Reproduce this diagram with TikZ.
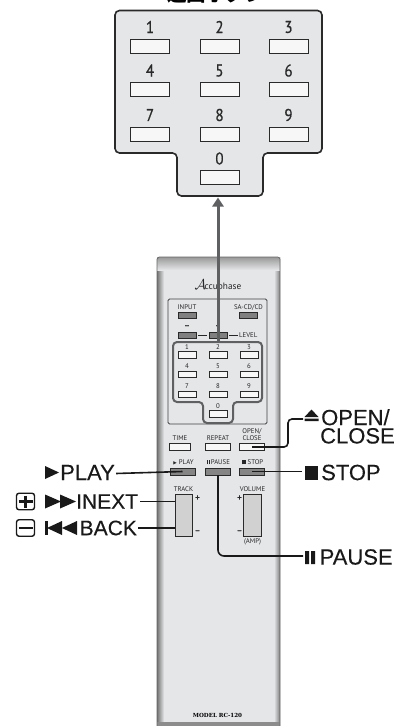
\documentclass[tikz,border=0pt]{standalone}
\usepackage{fontspec}
\setmainfont[FakeBold=0.25]{Liberation Sans}
\newfontfamily\cjk{Noto Sans CJK JP}
\newfontfamily\din{PT Sans}
\newfontfamily\dinm[FakeBold=0.8,FakeStretch=0.88]{PT Sans}
\newfontfamily\sym{DejaVu Sans}
\newfontfamily\modelf{DejaVu Serif}
\usetikzlibrary{arrows.meta}
\definecolor{panelgray}{HTML}{E5E6E8}
\definecolor{hlgray}{HTML}{5F6062}
\definecolor{edge}{HTML}{2A2A2A}
\tikzset{
  btnbase/.style={draw=edge,line width=0.9pt,inner sep=0pt,outer sep=0pt},
  pbtn/.style={btnbase,line width=1pt,fill=white!97!black,minimum width=39pt,minimum height=14pt},
  rbtn/.style={btnbase,fill=white!97!black,minimum width=18pt,minimum height=6.5pt},
  lbtn/.style={btnbase,fill=white!97!black,minimum width=25pt,minimum height=6.5pt},
  gbtn/.style={btnbase,fill=black!50,minimum width=18pt,minimum height=6.5pt},
  dbtn/.style={btnbase,fill=black!48,minimum width=25pt,minimum height=7pt},
  slider/.style={btnbase,top color=black!18,middle color=white,bottom color=black!18,minimum width=17.5pt,minimum height=42.5pt},
  pdigit/.style={inner sep=0pt,text=edge,font=\dinm\fontsize{17}{17}\selectfont},
  small/.style={inner sep=0pt,text=black!85,font=\din\fontsize{6.8}{7.2}\selectfont,align=center},
  signmark/.style={inner sep=0pt,text=black!85,font=\dinm\fontsize{9.5}{9.5}\selectfont},
  big/.style={inner sep=0pt,text=black!90,font=\fontsize{22}{18.3}\selectfont,align=left},
  bigs/.style={big,font=\fontsize{21}{21}\selectfont},
  conn/.style={draw=black!90,line width=1.6pt,rounded corners=4pt},
  hl/.style={draw=hlgray,line width=2pt,rounded corners=4pt},
  jump/.style={draw=hlgray,line width=3pt,-{Triangle[length=9pt,width=11pt]}},
  iconbox/.style={draw=black!90,line width=1.4pt,rounded corners=2.5pt,minimum width=18pt,minimum height=16.5pt,inner sep=0pt},
}
\begin{document}
\begin{tikzpicture}[x=1pt,y=-1pt]
\useasboundingbox (0,0) rectangle (396,726);
\fill[white] (0,0) rectangle (396,726);
% title
\node[inner sep=0pt,font=\cjk\bfseries\fontsize{19.5}{19.5}\selectfont] (title) at (216,-6) {選曲ボタン};
% enlarged panel
\draw[draw=edge,line width=1.6pt,fill=panelgray,rounded corners=4.5pt]
  (115,10.5) -- (322,10.5) -- (322,153) -- (263,153) -- (263,196) -- (177,196) -- (177,153) -- (115,153) -- cycle;
\coordinate (panelbottom) at (218,197.5);
\foreach \d/\x/\y in {1/150/46,2/219.5/46,3/288.5/46,4/150/89.5,5/219.5/89.5,6/288.5/89.5,7/150/134,8/219.5/134,9/288.5/134,0/219.5/177.5}{
  \node[pbtn] (p\d) at (\x,\y) {};
  \node[pdigit] (pd\d) at (\x,\y-19) {\d};
}
% remote body
\fill[panelgray] (157,257) rectangle (280,726);
\shade[left color=black!55,right color=panelgray] (157,257) rectangle (164,726);
\shade[left color=panelgray,right color=black!50] (274,257) rectangle (280,726);
\shade[top color=black!40,bottom color=panelgray] (157,257) rectangle (280,270);
\fill[black!45] (157,722) rectangle (280,726);
\draw[black!60,line width=0.7pt] (157,726) -- (157,259) -- ++(2,-2) -- (278,257) -- ++(2,2) -- (280,726);
% logo
\node[inner sep=0pt,text=black!85] (logo) at (218,286) {\fontsize{15}{15}\selectfont$\mathcal{A}$\hspace{-1.5pt}{\din\fontsize{9.3}{9}\selectfont ccuphase}};
% upper inner box
\draw[draw=black!75,line width=0.8pt,rounded corners=1.5pt] (168,299) rectangle (267,424);
\node[small] (linput) at (187,307.5) {INPUT};
\node[small] (lsacd) at (248.5,307.5) {SA-CD/CD};
\node[gbtn] (binput) at (187,315.5) {};
\node[gbtn] (bsacd) at (248.5,315.5) {};
\node[signmark] (lminus) at (187,327) {–};
\node[signmark] (lplus) at (218,327) {–};
\node[gbtn] (blevela) at (187,335.5) {};
\node[gbtn] (blevelb) at (218,335.5) {};
\node[small,anchor=west] (llevel) at (239,335.5) {LEVEL};
\draw[black!85,line width=0.9pt,shorten <=2.3pt,shorten >=2pt] (blevela) -- (blevelb);
\draw[black!85,line width=0.9pt,shorten <=2.3pt,shorten >=1pt] (blevelb) -- (llevel);
% numeric keys on the remote
\foreach \d/\x/\y in {1/187/355,2/218/355,3/249/355,4/187/374.5,5/218/374.5,6/249/374.5,7/187/394.5,8/218/394.5,9/249/394.5,0/218/414}{
  \node[rbtn] (r\d) at (\x,\y) {};
  \node[small] (rd\d) at (\x,\y-8) {\d};
}
\draw[hl] (173,342) -- (262,342) -- (262,402) -- (233,402) -- (233,423) -- (203,423) -- (203,402) -- (173,402) -- cycle;
\coordinate (hltop) at (218,342);
% lower keys
\node[lbtn,minimum width=20.5pt] (btime) at (180,447) {};
\node[lbtn] (brepeat) at (218,447) {};
\node[lbtn] (bopen) at (252,447) {};
\node[small] (ltime) at (180,438) {TIME};
\node[small] (lrepeat) at (218,438) {REPEAT};
\node[small] (lopen) at (252,434.5) {OPEN/\\CLOSE};
\node[dbtn] (bplay) at (182.5,471.5) {};
\node[dbtn] (bpause) at (218,471.5) {};
\node[dbtn] (bstop) at (252,471.5) {};
\node[small] (lplaysm) at (183.5,462) {{\sym\fontsize{4.5}{5}\selectfont ▶}\hspace{2pt}PLAY};
\node[small] (lpausesm) at (218.5,462) {\rule{1pt}{4.4pt}\hspace{0.8pt}\rule{1pt}{4.4pt}\hspace{1pt}PAUSE};
\node[small] (lstopsm) at (252.5,462) {\rule{4.4pt}{4.4pt}\hspace{1.5pt}STOP};
% sliders
\node[slider] (track) at (183.75,515.5) {};
\node[slider] (volume) at (252.6,515.5) {};
\node[small] (ltrack) at (183.5,489.5) {TRACK};
\node[small] (lvolume) at (252.5,489.5) {VOLUME};
\node[signmark] (tplus) at (197.5,498) {+};
\node[signmark] (tminus) at (197.5,532) {–};
\node[signmark] (vplus) at (239.5,498) {+};
\node[signmark] (vminus) at (239.5,532) {–};
\node[small] (lamp) at (252.5,542) {(AMP)};
\node[font=\modelf\bfseries\fontsize{5.6}{6}\selectfont,inner sep=0pt] (lmodel) at (217.5,715.7) {MODEL RC-120};
% jump arrow
\draw[jump] (hltop) -- (panelbottom);
% big labels
\node[big,anchor=west] (xplay) at (60,472.5) {PLAY};
\fill[black!90] (45,466) -- (59,472.5) -- (45,479) -- cycle;
\node[iconbox] (iplus) at (25.5,501.5) {};
\draw[black!90,line width=2.2pt] (18.5,501.5) -- (32.5,501.5) (25.5,495.5) -- (25.5,507.5);
\fill[black!90] (45,494.5) -- (61,501.5) -- (45,508.5) -- cycle (60,494.5) -- (76,501.5) -- (60,508.5) -- cycle;
\node[bigs,anchor=west] (xnext) at (76,501.5) {INEXT};
\node[iconbox] (iminus) at (25.5,528) {};
\draw[black!90,line width=2.2pt] (18.5,528) -- (32.5,528);
\fill[black!90] (45,521) rectangle (47.5,535);
\fill[black!90] (62,521) -- (47,528) -- (62,535) -- cycle (77,521) -- (62,528) -- (77,535) -- cycle;
\node[bigs,anchor=west] (xback) at (79.5,528) {BACK};
\fill[black!90] (305,466) rectangle (318,479.5);
\node[big,anchor=west] (xstop) at (321,472.5) {STOP};
\fill[black!90] (305,551) rectangle (309,564) (311,551) rectangle (315,564);
\node[big,anchor=west] (xpause) at (319.5,557) {PAUSE};
\fill[black!90] (304.5,417) -- (311.5,409.5) -- (318.5,417) -- cycle (304.5,418.5) rectangle (318.5,421);
\node[big,anchor=north west] (xopen) at (320,409) {\hspace{1pt}OPEN/\\CLOSE};
% connectors
\coordinate (openhook) at (303,419);
\draw[conn] (bopen.center) -- (288,447) -- (288,419) -- (openhook);
\coordinate (playend) at ([xshift=1pt,yshift=-1pt]xplay.east);
\draw[conn] (playend) -- (bplay.center);
\coordinate (stopend) at (302,471.5);
\draw[conn] (bstop.center) -- (stopend);
\coordinate (pauseend) at (303,556);
\draw[conn,rounded corners=6pt] (bpause.south) -- (218,556) -- (pauseend);
\coordinate (nextend) at ([xshift=2pt]xnext.east);
\draw[conn] (nextend) -- (track.west |- nextend);
\coordinate (backend) at ([xshift=1pt]xback.east);
\draw[conn] (backend) -- (track.west |- backend);
\end{tikzpicture}
\end{document}
